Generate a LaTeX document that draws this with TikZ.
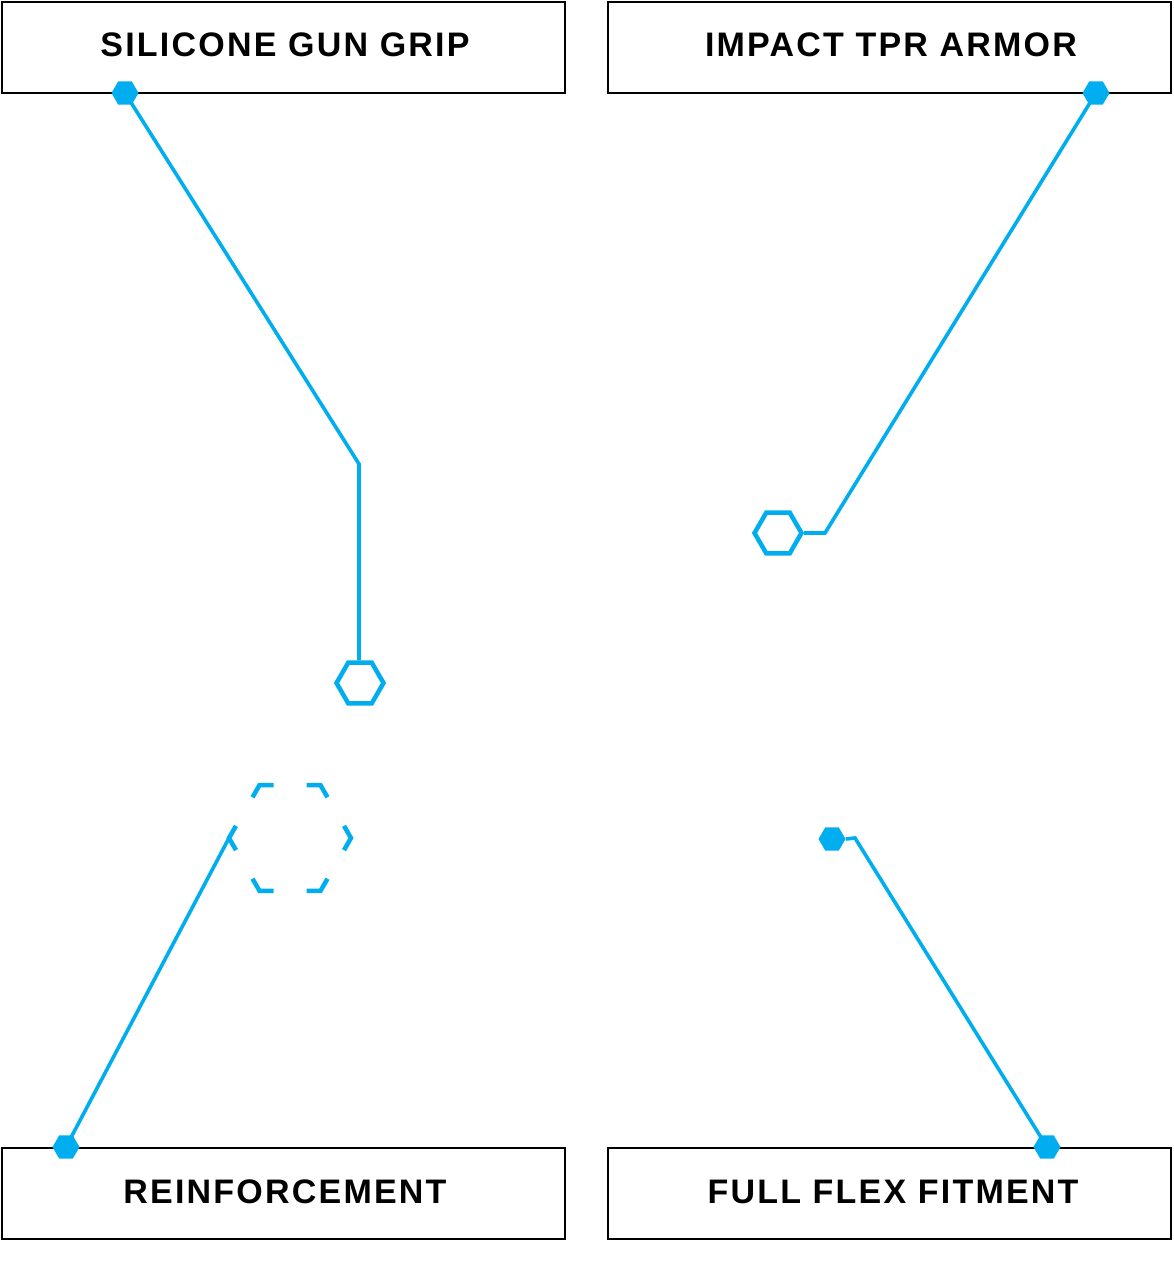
\documentclass[tikz,border=0pt]{standalone}
\usepackage{fontspec}
\setmainfont{Liberation Sans}
\usetikzlibrary{shapes.geometric,calc}
\definecolor{accent}{RGB}{0,174,239}
\begin{document}
\begin{tikzpicture}[x=1pt,y=-1pt,
  labelbox/.style={draw=black, line width=2pt, minimum width=563pt, minimum height=91pt,
    inner sep=0pt},
  labeltext/.style={inner sep=0pt, text=black,
    font=\fontsize{34}{34}\selectfont\bfseries\addfontfeature{LetterSpace=6.5}},
  hexdot/.style={regular polygon, regular polygon sides=6, fill=accent, draw=none,
    minimum size=27pt, inner sep=0pt},
  hexring/.style={regular polygon, regular polygon sides=6, draw=accent, line width=4.5pt,
    minimum size=47pt, inner sep=0pt},
  leader/.style={draw=accent, line width=3.6pt, line join=miter},
]
\useasboundingbox (0,0) rectangle (1173,1263);

% boxes
\node[labelbox] (bTL) at (283.5,47.5) {};
\node[labelbox] (bTR) at (889.5,47.5) {};
\node[labelbox] (bBL) at (283.5,1193.5) {};
\node[labelbox] (bBR) at (889.5,1193.5) {};
\node[labeltext] (tTL) at (285,44.5) {SILICONE GUN GRIP};
\node[labeltext] (tTR) at (891,44.5) {IMPACT TPR ARMOR};
\node[labeltext] (tBL) at (285,1191.5) {REINFORCEMENT};
\node[labeltext] (tBR) at (893,1191.5) {FULL FLEX FITMENT};

% targets
\node[hexring] (hTL) at (360,683) {};
\node[hexring] (hTR) at (778,533) {};
\node[hexdot] (dBR) at (832,839) {};

% dashed corner hexagon
\foreach \i in {0,...,5}{
  \coordinate (v\i) at ($(290,838)+({60*\i}:61)$);
}
\coordinate (hBLleft) at (v3);
\foreach \i/\p/\n in {0/5/1,1/0/2,2/1/3,3/2/4,4/3/5,5/4/0}{
  \draw[accent, line width=4.5pt, line join=miter]
    ($(v\i)!14pt!(v\p)$) -- (v\i) -- ($(v\i)!14pt!(v\n)$);
}

% kinks
\coordinate (kTL) at (359,464);
\coordinate (kTR) at (825,533);
\coordinate (kBR) at (855,838);

% anchor dots positions
\coordinate (pTL) at (125,93);
\coordinate (pTR) at (1096,93);
\coordinate (pBL) at (66,1147);
\coordinate (pBR) at (1047,1147);

% leaders
\draw[leader] (pTL) -- (kTL) -- (kTL |- hTL.north);
\draw[leader] (pTR) -- (kTR) -- (hTR.east);
\draw[leader] (pBL) -- (hBLleft);
\draw[leader] (dBR.east) -- (kBR) -- (pBR);

% dots
\node[hexdot] (dTL) at (pTL) {};
\node[hexdot] (dTR) at (pTR) {};
\node[hexdot] (dBL) at (pBL) {};
\node[hexdot] (dBRend) at (pBR) {};
\end{tikzpicture}
\end{document}
